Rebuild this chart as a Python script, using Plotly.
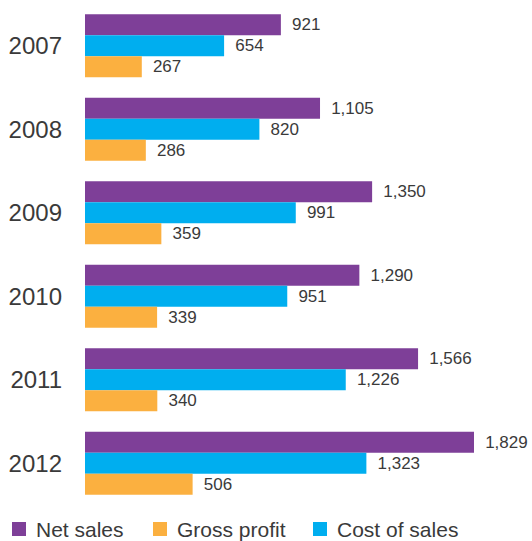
import plotly.graph_objects as go

years = ["2007", "2008", "2009", "2010", "2011", "2012"]
net_sales = [921, 1105, 1350, 1290, 1566, 1829]
cost_of_sales = [654, 820, 991, 951, 1226, 1323]
gross_profit = [267, 286, 359, 339, 340, 506]

series = [
    ("Net sales", net_sales, "#7E3F98"),
    ("Cost of sales", cost_of_sales, "#00AEEF"),
    ("Gross profit", gross_profit, "#FBB040"),
]
legend_order = ["Net sales", "Gross profit", "Cost of sales"]
legend_x = [12, 153, 313]  # left edge of each key swatch, px

FONT = "Liberation Sans, Arial, sans-serif"
TEXT_COLOR = "#3a3a3a"

W, H = 532, 541
ML, MR, MT, MB = 85, 0, 4, 36
PW, PH = W - ML - MR, H - MT - MB


def px_to_paper(px, py):
    return (px - ML) / PW, (H - MB - py) / PH


fig = go.Figure()
for name, vals, color in series:
    fig.add_trace(go.Bar(
        y=years, x=vals, name=name, orientation="h",
        marker=dict(color=color, line=dict(width=0)),
        texttemplate="\u00a0\u2009%{x:,}",
        textposition="outside",
        constraintext="none",
        cliponaxis=False,
        textfont=dict(family=FONT, size=17, color=TEXT_COLOR),
        showlegend=False,
        hoverinfo="skip",
    ))

# Key along the bottom edge: swatch + label for each series
colors = {n: c for n, _, c in series}
shapes, annotations = [], []
for name, x0 in zip(legend_order, legend_x):
    sx0, sy0 = px_to_paper(x0, 536)
    sx1, sy1 = px_to_paper(x0 + 14, 522)
    shapes.append(dict(type="rect", xref="paper", yref="paper",
                       x0=sx0, x1=sx1, y0=sy0, y1=sy1,
                       fillcolor=colors[name], line=dict(width=0)))
    tx, ty = px_to_paper(x0 + 22, 529)
    annotations.append(dict(xref="paper", yref="paper", x=tx, y=ty,
                            xanchor="left", yanchor="middle", showarrow=False,
                            text=name,
                            font=dict(family=FONT, size=21, color=TEXT_COLOR)))

fig.update_layout(
    width=W, height=H,
    margin=dict(l=ML, r=MR, t=MT, b=MB),
    paper_bgcolor="white", plot_bgcolor="white",
    barmode="group", bargap=0.246, bargroupgap=0,
    font=dict(family=FONT, color=TEXT_COLOR),
    xaxis=dict(range=[0, 2101.7], visible=False, fixedrange=True),
    yaxis=dict(
        autorange="reversed", showgrid=False, showline=False, zeroline=False,
        ticks="", ticklabelstandoff=22,
        tickfont=dict(family=FONT, size=24, color=TEXT_COLOR),
    ),
    shapes=shapes,
    annotations=annotations,
)

fig.write_html("out.html")
